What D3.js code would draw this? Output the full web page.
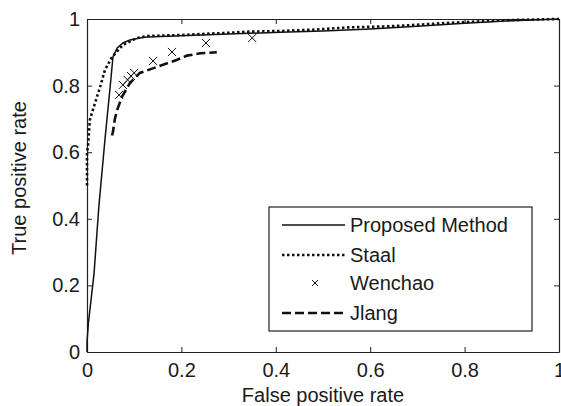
<!DOCTYPE html>
<html>
<head>
<meta charset="utf-8">
<script src="https://cdn.jsdelivr.net/npm/d3@7"></script>
<style>
  body { margin: 0; background: #fff; }
  text { font-family: "Liberation Sans", Arial, sans-serif; fill: #1a1a1a; }
</style>
</head>
<body>
<svg id="chart"></svg>
<script>
// values
const proposedFpr = [0, 0, 0.003, 0.015, 0.025, 0.038, 0.05, 0.055, 0.064, 0.076, 0.091, 0.112, 0.127, 0.2, 0.3, 0.41, 0.5, 0.6, 0.7, 0.8, 0.9, 1.0];
const proposedTpr = [0, 0.03, 0.087, 0.237, 0.435, 0.637, 0.81, 0.886, 0.913, 0.928, 0.937, 0.943, 0.946, 0.95, 0.955, 0.96, 0.964, 0.97, 0.978, 0.987, 0.995, 1.0];

const staalFpr = [0, 0, 0.002, 0.006, 0.017, 0.028, 0.038, 0.053, 0.076, 0.106, 0.127, 0.2, 0.275, 0.345, 0.41, 0.48, 0.557, 0.64, 0.69, 0.76, 0.85, 0.9, 1];
const staalTpr = [0.5, 0.6, 0.616, 0.697, 0.748, 0.797, 0.847, 0.886, 0.922, 0.943, 0.949, 0.952, 0.957, 0.962, 0.964, 0.968, 0.975, 0.978, 0.982, 0.988, 0.994, 0.997, 1];

const wenchaoFpr = [0.068, 0.076, 0.086, 0.093, 0.1, 0.14, 0.18, 0.252, 0.35];
const wenchaoTpr = [0.772, 0.802, 0.817, 0.829, 0.838, 0.874, 0.901, 0.928, 0.943];

const jiangFpr = [0.053, 0.055, 0.059, 0.064, 0.074, 0.091, 0.112, 0.148, 0.19, 0.212, 0.24, 0.275];
const jiangTpr = [0.65, 0.661, 0.7, 0.727, 0.766, 0.808, 0.838, 0.856, 0.877, 0.89, 0.897, 0.9];

const tickValues = [0, 0.2, 0.4, 0.6, 0.8, 1];
const tickLabels = ['0', '0.2', '0.4', '0.6', '0.8', '1'];
const legendNames = ['Proposed Method', 'Staal', 'Wenchao', 'Jlang'];

const width = 561, height = 406;
const margin = { top: 19, right: 2, bottom: 54, left: 87 };

const x = d3.scaleLinear().domain([0, 1]).range([margin.left, width - margin.right]);
const y = d3.scaleLinear().domain([0, 1]).range([height - margin.bottom, margin.top]);

const svg = d3.select('#chart')
    .attr('width', width)
    .attr('height', height);

const zip = (a, b) => a.map((v, i) => [v, b[i]]);
const line = d3.line().x(d => x(d[0])).y(d => y(d[1]));

const fmt = (d) => tickLabels[tickValues.indexOf(d)];

// axes, ticks pointing inward on all four sides
const styleAxis = g => {
    g.select('.domain').attr('stroke', '#222').attr('stroke-width', 1.2);
    g.selectAll('.tick line').attr('stroke', '#222');
    g.selectAll('.tick text').style('font-size', '20px').attr('fill', '#1a1a1a');
};

svg.append('g')
    .attr('transform', `translate(0,${y(0)})`)
    .call(d3.axisBottom(x).tickValues(tickValues).tickFormat(fmt).tickSize(-5).tickSizeOuter(0).tickPadding(11))
    .call(styleAxis);

svg.append('g')
    .attr('transform', `translate(0,${y(1)})`)
    .call(d3.axisTop(x).tickValues(tickValues).tickFormat('').tickSize(-5).tickSizeOuter(0))
    .call(styleAxis);

svg.append('g')
    .attr('transform', `translate(${x(0)},0)`)
    .call(d3.axisLeft(y).tickValues(tickValues).tickFormat(fmt).tickSize(-5).tickSizeOuter(0).tickPadding(7))
    .call(styleAxis);

svg.append('g')
    .attr('transform', `translate(${x(1)},0)`)
    .call(d3.axisRight(y).tickValues(tickValues).tickFormat('').tickSize(-5).tickSizeOuter(0))
    .call(styleAxis);

svg.selectAll('.domain').attr('fill', 'none');

// series
const series = svg.append('g').attr('fill', 'none').attr('stroke', '#111');

series.append('path')
    .attr('d', line(zip(staalFpr, staalTpr)))
    .attr('stroke-width', 2.6)
    .attr('stroke-dasharray', '2.5,2.5');

series.append('path')
    .attr('d', line(zip(proposedFpr, proposedTpr)))
    .attr('stroke-width', 1.5);

series.append('path')
    .attr('d', line(zip(jiangFpr, jiangTpr)))
    .attr('stroke-width', 2.6)
    .attr('stroke-dasharray', '9,4');

const cross = d3.symbol(d3.symbolTimes, 44);
series.selectAll('.mark')
    .data(zip(wenchaoFpr, wenchaoTpr))
    .join('path')
    .attr('class', 'mark')
    .attr('transform', d => `translate(${x(d[0])},${y(d[1])})`)
    .attr('d', cross)
    .attr('stroke-width', 1);

// labels
svg.append('text')
    .attr('x', 323).attr('y', 402)
    .attr('text-anchor', 'middle')
    .style('font-size', '20px')
    .text('False positive rate');

svg.append('text')
    .attr('transform', 'translate(26,178) rotate(-90)')
    .attr('text-anchor', 'middle')
    .style('font-size', '20px')
    .text('True positive rate');

// legend
const legend = svg.append('g').attr('transform', 'translate(269,207)');
legend.append('rect')
    .attr('width', 263).attr('height', 124)
    .attr('fill', '#fff').attr('stroke', '#222').attr('stroke-width', 1.2);

const rowY = [18, 48, 76, 106];
const samples = [
    { w: 1.5, dash: null },
    { w: 2.6, dash: '2.5,2.5' },
    null,
    { w: 2.6, dash: '9,4' }
];

legendNames.forEach((name, i) => {
    const s = samples[i];
    if (s) {
        legend.append('line')
            .attr('x1', 13).attr('x2', 76)
            .attr('y1', rowY[i]).attr('y2', rowY[i])
            .attr('stroke', '#111').attr('stroke-width', s.w)
            .attr('stroke-dasharray', s.dash);
    } else {
        legend.append('path')
            .attr('transform', `translate(46,${rowY[i]})`)
            .attr('d', d3.symbol(d3.symbolTimes, 24)())
            .attr('fill', 'none').attr('stroke', '#111').attr('stroke-width', 1);
    }
    legend.append('text')
        .attr('x', 81).attr('y', rowY[i] + 7)
        .style('font-size', '20px')
        .text(name);
});
</script>
</body>
</html>
